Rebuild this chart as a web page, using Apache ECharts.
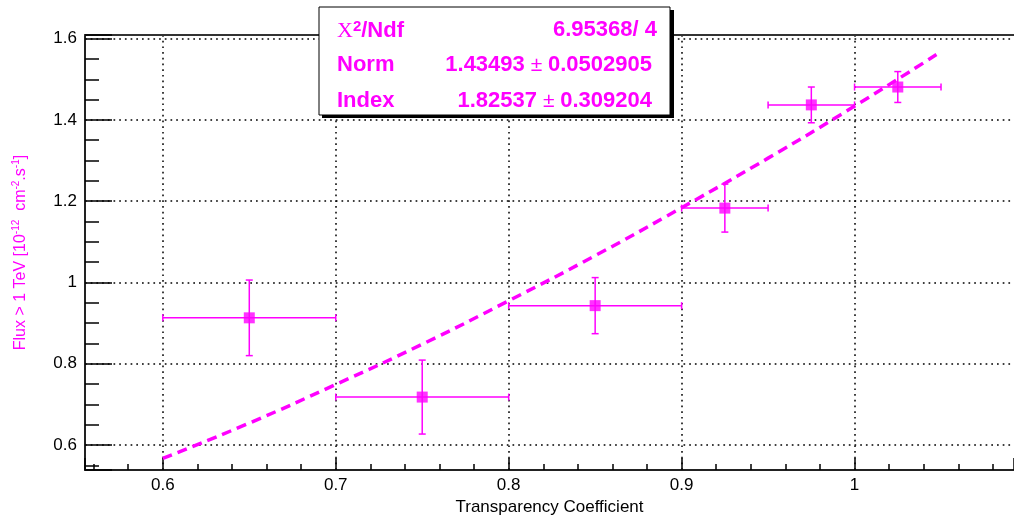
<!DOCTYPE html>
<html><head><meta charset="utf-8">
<script src="https://cdn.jsdelivr.net/npm/echarts@6/dist/echarts.min.js"></script>
<style>html,body{margin:0;padding:0;background:#fff}#c{width:1014px;height:521px}</style>
</head><body><div id="c"></div>
<script>
// ---- data ----
const pointX   = [0.65, 0.75, 0.85, 0.925, 0.975, 1.025];
const pointY   = [0.913, 0.718, 0.943, 1.183, 1.437, 1.481];
const xErrLow  = [0.6, 0.7, 0.8, 0.9, 0.95, 1.0];
const xErrHigh = [0.7, 0.8, 0.9, 0.95, 1.0, 1.05];
const yErr     = [0.093, 0.091, 0.069, 0.059, 0.044, 0.038];
const fitX = [0.6, 0.65, 0.7, 0.75, 0.8, 0.85, 0.9, 0.95, 1.0, 1.05];
const fitY = [0.567, 0.654, 0.749, 0.848, 0.955, 1.066, 1.184, 1.306, 1.434, 1.568];
const statNames  = ['Norm', 'Index'];
const statValues = ['1.43493', '1.82537'];
const statErrors = ['0.0502905', '0.309204'];
const chi2Text = '6.95368/ 4';
const xTitle = 'Transparency Coefficient';

const MAG = '#ff00ff';
const FONT = 'Liberation Sans, Arial, Helvetica, sans-serif';

const errData = pointX.map((x, i) => [x, pointY[i], xErrLow[i], xErrHigh[i], yErr[i]]);
const scatterData = pointX.map((x, i) => [x, pointY[i]]);
const fitData = fitX.map((x, i) => [x, fitY[i]]);

function renderErr(params, api) {
  const x = api.value(0), y = api.value(1), xl = api.value(2), xh = api.value(3), e = api.value(4);
  const c = api.coord([x, y]);
  const l = api.coord([xl, y]), r = api.coord([xh, y]);
  const t = api.coord([x, y + e]), b = api.coord([x, y - e]);
  const cap = 3.5;
  const style = { stroke: MAG, lineWidth: 1.5, fill: null };
  return { type: 'group', children: [
    { type: 'line', shape: { x1: l[0], y1: c[1], x2: r[0], y2: c[1] }, style },
    { type: 'line', shape: { x1: c[0], y1: t[1], x2: c[0], y2: b[1] }, style },
    { type: 'line', shape: { x1: l[0], y1: c[1] - cap, x2: l[0], y2: c[1] + cap }, style },
    { type: 'line', shape: { x1: r[0], y1: c[1] - cap, x2: r[0], y2: c[1] + cap }, style },
    { type: 'line', shape: { x1: c[0] - cap, y1: t[1], x2: c[0] + cap, y2: t[1] }, style },
    { type: 'line', shape: { x1: c[0] - cap, y1: b[1], x2: c[0] + cap, y2: b[1] }, style }
  ]};
}

const gridDots = { color: '#000', width: 1.5, type: [1.7, 4] };
const tickStyle = { color: '#000', width: 1.5 };

const chart = echarts.init(document.getElementById('c'), null, { renderer: 'canvas' });
chart.setOption({
  animation: false,
  backgroundColor: '#fff',
  grid: { left: 85, right: -2, top: 35, bottom: 47, containLabel: false },
  xAxis: [{
    type: 'value', min: 0.555, max: 1.0922, splitNumber: 5,
    axisLine: { show: true, onZero: false, lineStyle: { color: '#222', width: 2 } },
    axisTick: { show: true, inside: true, length: 12, lineStyle: tickStyle },
    minorTick: { show: true, splitNumber: 5, length: 6, lineStyle: tickStyle },
    axisLabel: { showMinLabel: false, showMaxLabel: false, color: '#000', fontSize: 17, fontFamily: FONT, margin: 7 },
    splitLine: { show: true, showMinLine: false, showMaxLine: false, lineStyle: gridDots },
    name: xTitle, nameLocation: 'middle', nameGap: 20,
    nameTextStyle: { color: '#000', fontSize: 17, fontFamily: FONT }
  }, {
    type: 'value', position: 'top', min: 0.555, max: 1.0922,
    axisLine: { show: true, onZero: false, lineStyle: { color: '#333', width: 2 } },
    axisTick: { show: false }, axisLabel: { show: false }, splitLine: { show: false }
  }],
  yAxis: {
    type: 'value', min: 0.5383, max: 1.609, splitNumber: 5,
    axisLine: { show: true, onZero: false, lineStyle: { color: '#222', width: 2 } },
    axisTick: { show: true, inside: true, length: 27, lineStyle: tickStyle },
    minorTick: { show: true, splitNumber: 4, length: 14, lineStyle: tickStyle },
    axisLabel: { showMinLabel: false, showMaxLabel: false, color: '#000', fontSize: 17, fontFamily: FONT, margin: 8 },
    splitLine: { show: true, showMinLine: false, showMaxLine: false, lineStyle: gridDots },
    name: '{a|Flux > 1 TeV [10}{s|-12}{a|  cm}{s|-2}{a|.s}{s|-1}{a|]}',
    nameLocation: 'middle', nameRotate: 90, nameGap: 54,
    nameTextStyle: {
      color: MAG, fontFamily: FONT,
      rich: {
        a: { color: MAG, fontSize: 16, lineHeight: 20, fontFamily: FONT },
        s: { color: MAG, fontSize: 10, lineHeight: 11, verticalAlign: 'top', fontFamily: FONT }
      }
    }
  },
  series: [{
    type: 'custom', renderItem: renderErr, data: errData, clip: true, z: 3,
    encode: { x: [0, 2, 3], y: 1 }
  }, {
    type: 'scatter', data: scatterData, symbol: 'rect', symbolSize: 11,
    itemStyle: { color: MAG }, z: 4
  }, {
    type: 'line', data: fitData, smooth: true, showSymbol: false, symbol: 'none',
    lineStyle: { color: MAG, width: 3.5, type: [10, 6] }, z: 5
  }],
  graphic: [
    { type: 'rect', z: 100, shape: { x: 322, y: 10, width: 352, height: 108 }, style: { fill: '#000' } },
    { type: 'rect', z: 101, shape: { x: 319, y: 7, width: 351, height: 108 }, style: { fill: '#fff', stroke: '#000', lineWidth: 1 } },
    { type: 'text', z: 102, style: {
        x: 337, y: 31, verticalAlign: 'middle', align: 'left',
        text: '{c|Χ}{s|2}{b|/Ndf}',
        rich: {
          c: { fill: MAG, fontSize: 22, fontFamily: 'Liberation Serif, serif', lineHeight: 24 },
          s: { fill: MAG, fontSize: 15, fontWeight: 'bold', fontFamily: FONT, lineHeight: 15, verticalAlign: 'top' },
          b: { fill: MAG, fontSize: 22, fontWeight: 'bold', fontFamily: FONT, lineHeight: 24 }
        } } },
    { type: 'text', z: 102, style: { x: 657, y: 30, align: 'right', verticalAlign: 'middle', text: chi2Text,
        fill: MAG, fontSize: 22, fontWeight: 'bold', fontFamily: FONT } },
    ...statNames.map((n, i) => ({ type: 'text', z: 102, style: { x: 337, y: 65 + i * 36, align: 'left', verticalAlign: 'middle',
        text: n, fill: MAG, fontSize: 22, fontWeight: 'bold', fontFamily: FONT } })),
    ...statValues.map((v, i) => ({ type: 'text', z: 102, style: { x: 652, y: 65 + i * 36, align: 'right', verticalAlign: 'middle',
        text: '{b|' + v + '}{p| ± }{b|' + statErrors[i] + '}',
        rich: {
          b: { fill: MAG, fontSize: 22, fontWeight: 'bold', fontFamily: FONT },
          p: { fill: MAG, fontSize: 21, fontFamily: FONT }
        } } }))
  ]
});
</script></body></html>
